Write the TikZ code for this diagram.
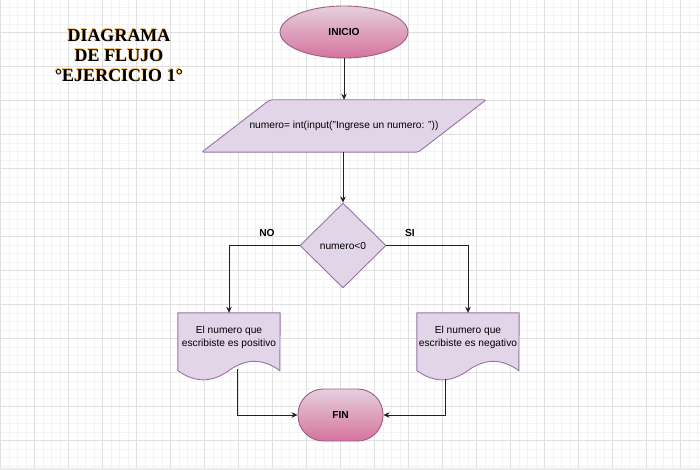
\documentclass[tikz,border=0pt]{standalone}
\usepackage{fontspec}
\setmainfont{Liberation Sans}
\newfontfamily\titlefont{Liberation Serif}
\usetikzlibrary{shapes.geometric,arrows.meta,calc}
\definecolor{purplefill}{HTML}{E1D5E7}
\definecolor{purpleline}{HTML}{9673A6}
\definecolor{pinktop}{HTML}{E6D0DE}
\definecolor{pinkbot}{HTML}{D5739D}
\definecolor{pinkline}{HTML}{996185}
\definecolor{gridminor}{HTML}{F3F3F3}
\definecolor{gridmajor}{HTML}{E0E0E0}
\definecolor{titleglow}{HTML}{F2B040}
\definecolor{linkcol}{HTML}{222222}
\newcommand\glowline[1]{\leavevmode\rlap{\kern-0.6pt\raisebox{0.3pt}{\color{titleglow}#1}}#1}
\tikzset{
  terminal/.style={draw=pinkline, line width=0.9pt, top color=pinktop, bottom color=pinkbot, font=\fontsize{10.2}{12}\selectfont\bfseries, inner sep=0pt},
  purpleshape/.style={draw=purpleline, fill=purplefill, line width=0.9pt},
  frame/.style={draw=none, inner sep=0pt},
  decision/.style={diamond, aspect=1, draw=purpleline, fill=purplefill, line width=0.9pt, inner sep=0pt, minimum width=86pt, minimum height=85pt},
  arr/.style={draw=linkcol, line width=0.8pt, -{Stealth[length=6pt,width=5.5pt]}},
  branchlabel/.style={font=\fontsize{10.2}{12}\selectfont\bfseries},
  doctext/.style={align=center, font=\fontsize{10.2}{13}\selectfont},
  minorline/.style={draw=gridminor, line width=0.6pt},
  majorline/.style={draw=gridmajor, line width=0.7pt}
}
\begin{document}
\begin{tikzpicture}[x=1pt, y=-1pt, font=\fontsize{10.2}{12}\selectfont]
\useasboundingbox (0,0) rectangle (700,470);
\fill[white] (0,0) rectangle (700,470);
% grid
\foreach \i in {0,...,82} {
  \draw[minorline] ({0.3+8.5*\i},0) -- ({0.3+8.5*\i},470);
}
\foreach \i in {0,...,56} {
  \draw[minorline] (0,{-1.6+8.5*\i}) -- (700,{-1.6+8.5*\i});
}
\foreach \i in {0,...,20} {
  \draw[majorline] ({0.3+34*\i},0) -- ({0.3+34*\i},470);
}
\foreach \i in {0,...,13} {
  \draw[majorline] (0,{-1.6+34*\i}) -- (700,{-1.6+34*\i});
}
\fill[gray!14] (0,467.5) rectangle (700,470);

% title
\node[align=center, font=\titlefont\fontsize{18}{20}\selectfont\bfseries] (title) at (119,55)
  {\glowline{DIAGRAMA}\\\glowline{DE FLUJO}\\\glowline{°EJERCICIO 1°}};

% start
\node[terminal, ellipse, minimum width=128pt, minimum height=52pt] (inicio) at (344,32) {INICIO};

% input parallelogram
\node[frame, minimum width=148pt, minimum height=52pt] (entrada) at (344,126) {};
\path[purpleshape, rounded corners=2pt]
  (entrada.north west) -- ($(entrada.north east)+(68,0)$) -- (entrada.south east)
  -- ($(entrada.south west)+(-68,0)$) -- cycle;
\node[doctext] (entradatxt) at (entrada.center) {numero= int(input("Ingrese un numero: "))};

% decision
\node[decision] (cond) at (343,245.5) {numero<0};

% documents
\node[frame, minimum width=102pt, minimum height=68pt] (docL) at (229,347) {};
\node[frame, minimum width=102pt, minimum height=68pt] (docR) at (468,347) {};
\foreach \d in {docL,docR} {
  \path[purpleshape]
    (\d.north west) -- (\d.north east) -- ($(\d.north west)+(102,57.8)$)
    .. controls ($(\d.north west)+(85,45.5)$) and ($(\d.north west)+(68,45.5)$) .. ($(\d.north west)+(51,57.8)$)
    .. controls ($(\d.north west)+(34,70.1)$) and ($(\d.north west)+(17,70.1)$) .. ($(\d.north west)+(0,57.8)$)
    -- cycle;
}
\node[doctext] (docLtxt) at ($(docL.center)+(0,-9.5)$) {El numero que\\escribiste es positivo};
\node[doctext] (docRtxt) at ($(docR.center)+(0,-9.5)$) {El numero que\\escribiste es negativo};

% end
\node[terminal, rectangle, rounded corners=25.5pt, minimum width=85pt, minimum height=52pt] (fin) at (340.5,415) {FIN};

% branch labels
\node[branchlabel] (nolbl) at (267,232.5) {NO};
\node[branchlabel] (silbl) at (410,232.5) {SI};

% connectors
\draw[arr] (inicio.south) -- (entrada.north -| inicio.south);
\draw[arr] (entrada.south -| cond.north) -- (cond.north);
\draw[arr] (cond.west) -| (docL.north);
\draw[arr] (cond.east) -| (docR.north);
\coordinate (docLout) at ($(docL.north west)+(60,56.5)$);
\coordinate (docRout) at ($(docR.north west)+(29,66.5)$);
\draw[arr] (docLout) |- (fin.west);
\draw[arr] (docRout) |- (fin.east);
\end{tikzpicture}
\end{document}
